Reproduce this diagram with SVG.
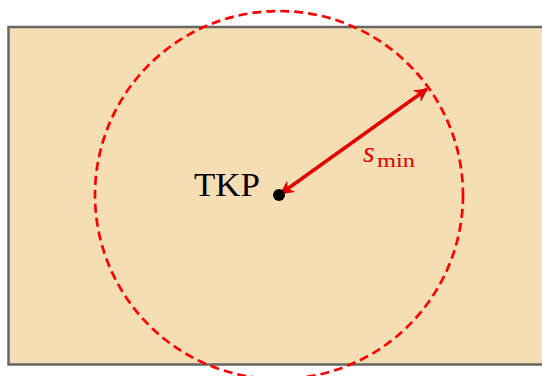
<svg xmlns="http://www.w3.org/2000/svg" width="542" height="376" viewBox="0 0 542 376">
<defs>
<style>
text{font-family:"Liberation Serif","Times New Roman",serif;}
</style>
<marker id="ah" viewBox="0 0 10 10" refX="9" refY="5" markerWidth="4" markerHeight="4" orient="auto-start-reverse" markerUnits="strokeWidth">
<path d="M0,0 L10,5 L0,10 L3,5 Z" fill="#E00000"/>
</marker>
</defs>
<rect width="542" height="376" fill="#ffffff"/>
<g id="area">
<rect x="8.5" y="27" width="545" height="337.5" fill="#F5DEB3" stroke="#666666" stroke-width="2.5"/>
</g>
<g id="circle">
<circle cx="279" cy="195" r="184" fill="none" stroke="#FF0000" stroke-width="2.7" stroke-dasharray="9,5"/>
</g>
<g id="connectors">
<line x1="281" y1="193.5" x2="427" y2="89" stroke="#E00000" stroke-width="3.5" marker-start="url(#ah)" marker-end="url(#ah)"/>
</g>
<g id="tkp">
<circle cx="279" cy="195" r="6" fill="#000000"/>
<text font-family="Liberation Serif, serif" x="194" y="196" font-size="33" fill="#000000" textLength="66" lengthAdjust="spacingAndGlyphs">TKP</text>
</g>
<g id="smin">
<text font-family="Liberation Serif, serif" x="363" y="162" font-size="30" font-style="italic" fill="#E00000">s</text>
<text font-family="Liberation Serif, serif" x="377" y="167" font-size="19" fill="#E00000" textLength="38" lengthAdjust="spacingAndGlyphs">min</text>
</g>
</svg>
